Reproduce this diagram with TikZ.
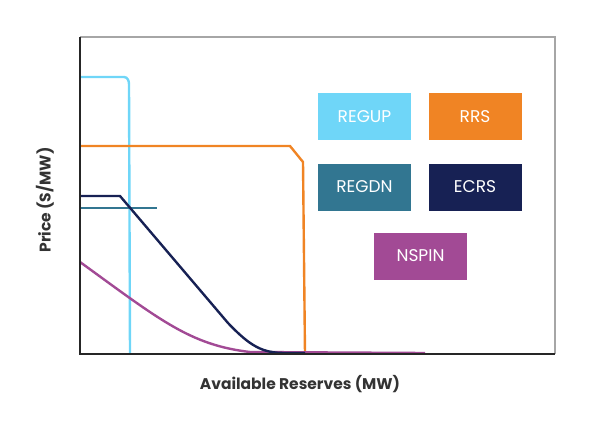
\documentclass[tikz,border=0pt]{standalone}
\usepackage{fontspec}
\setmainfont{Poppins}
\begin{document}
\begin{tikzpicture}[x=1pt,y=-1pt,
  leg/.style={minimum width=93pt,minimum height=47pt,inner sep=0pt,text=white,font=\fontsize{17}{19}\selectfont},
  ax/.style={font=\fontsize{15.5}{17}\selectfont\bfseries,text=black!80}]
\useasboundingbox (0,0) rectangle (600,421);
\definecolor{cup}{HTML}{6FD6F8}
\definecolor{crrs}{HTML}{F08424}
\definecolor{cdn}{HTML}{327691}
\definecolor{cecrs}{HTML}{172154}
\definecolor{cns}{HTML}{A24A95}
\draw[gray!70,line width=1.2pt] (80,37) -- (555,37) -- (555,354);
\draw[cup,line width=2.4pt] (80,77) -- (124,77) to[out=0,in=90] (129,84) -- (130,354);
\draw[crrs,line width=2.4pt] (80,146) -- (290,146) -- (303,162) -- (305,354);
\draw[cdn,line width=2.4pt] (80,208) -- (157,208);
\draw[cns,line width=2.4pt] (80,262) .. controls (160,320) and (190,345) .. (250,352) -- (425,353);
\draw[cecrs,line width=2.4pt] (80,196) -- (120,196) -- (228,323) .. controls (250,346) and (262,353) .. (285,353) -- (305,353);
\draw[black!85,line width=1.6pt] (80,37) -- (80,354) -- (555,354);
\node[leg,fill=cup] (a) at (364.5,116.5) {REGUP};
\node[leg,fill=crrs] (b) at (475,116.5) {RRS};
\node[leg,fill=cdn] (c) at (364.5,187) {REGDN};
\node[leg,fill=cecrs] (d) at (475,187) {ECRS};
\node[leg,fill=cns] (e) at (420.5,256) {NSPIN};
\node[ax,rotate=90] (yl) at (45,200) {Price (S/MW)};
\node[ax] (xl) at (300,384) {Available Reserves (MW)};
\end{tikzpicture}
\end{document}
